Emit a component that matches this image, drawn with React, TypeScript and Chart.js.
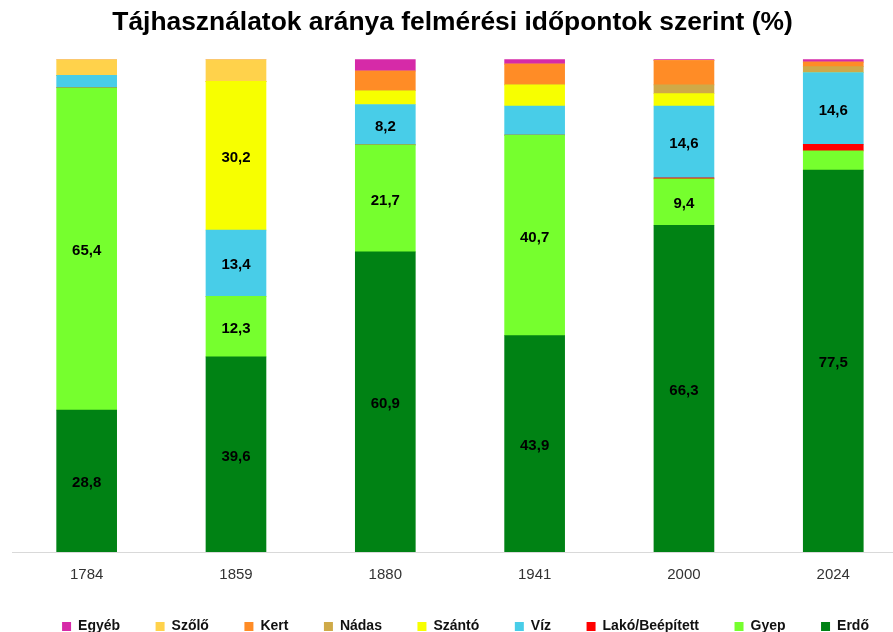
import React, { useEffect, useRef } from "react";
import { Chart, registerables } from "chart.js";

Chart.register(...registerables);

// ---- Data ----
const CATEGORIES = ["1784", "1859", "1880", "1941", "2000", "2024"];

const ERDO = [28.8, 39.6, 60.9, 43.9, 66.3, 77.5];
const GYEP = [65.4, 12.3, 21.7, 40.7, 9.4, 3.9];
const LAKO = [0, 0, 0, 0, 0.2, 1.3];
const VIZ = [2.5, 13.4, 8.2, 5.9, 14.6, 14.6];
const SZANTO = [0, 30.2, 2.8, 4.3, 2.5, 0];
const NADAS = [0, 0, 0, 0, 1.8, 1.2];
const KERT = [0, 0, 4.0, 4.2, 4.9, 0.9];
const SZOLO = [3.3, 4.5, 0, 0, 0, 0];
const EGYEB = [0, 0, 2.4, 1.0, 0.3, 0.6];

const SERIES_NAMES = ["Erdő", "Gyep", "Lakó/Beépített", "Víz", "Szántó", "Nádas", "Kert", "Szőlő", "Egyéb"];
const SERIES_VALUES = [ERDO, GYEP, LAKO, VIZ, SZANTO, NADAS, KERT, SZOLO, EGYEB];
const SERIES_COLORS = ["#008214", "#76ff2e", "#ff0000", "#48cde8", "#f7ff00", "#cfaa48", "#ff8c26", "#ffd24b", "#d62aa8"];

const TITLE = "Tájhasználatok aránya felmérési időpontok szerint (%)";
const LABEL_MIN = 8;

const FONT = '"Liberation Sans", Arial, Helvetica, sans-serif';
const LEGEND_DX = 13;
const LEGEND_DY = -13;

const fmt = (v: number) => v.toFixed(1).replace(".", ",");

const valueLabels = {
  id: "valueLabels",
  afterDatasetsDraw(chart: any) {
    const ctx = chart.ctx;
    ctx.save();
    ctx.font = `bold 15px ${FONT}`;
    ctx.fillStyle = "#000000";
    ctx.textAlign = "center";
    ctx.textBaseline = "middle";
    chart.data.datasets.forEach((ds: any, di: number) => {
      const meta = chart.getDatasetMeta(di);
      if (meta.hidden) return;
      meta.data.forEach((el: any, i: number) => {
        const v = SERIES_VALUES[di][i];
        if (v < LABEL_MIN) return;
        const { x, y, base } = el.getProps(["x", "y", "base"], true);
        ctx.fillText(fmt(v), x, (y + base) / 2 + 2);
      });
    });
    ctx.restore();
  },
};

const legendShift = {
  id: "legendShift",
  afterLayout(chart: any) {
    const lg = chart.legend;
    if (!lg) return;
    lg.left += LEGEND_DX;
    lg.right += LEGEND_DX;
    lg.top += LEGEND_DY;
    lg.bottom = chart.height;
  },
};

export default function App() {
  const ref = useRef<HTMLCanvasElement | null>(null);

  useEffect(() => {
    if (!ref.current) return;
    const chart = new Chart(ref.current, {
      type: "bar",
      data: {
        datasets: SERIES_NAMES.map((name, si) => ({
          label: name,
          data: SERIES_VALUES[si].map((v, i) => ({ x: i, y: v })),
          backgroundColor: SERIES_COLORS[si],
          borderWidth: 0,
          barThickness: 60,
        })),
      },
      options: {
        animation: false,
        responsive: false,
        devicePixelRatio: 1,
        events: [],
        layout: { padding: { left: 12, right: 0, top: 0, bottom: 0 } },
        scales: {
          x: {
            type: "linear",
            stacked: true,
            min: -0.5,
            max: 5.4,
            offset: false,
            grid: { display: false, drawTicks: false },
            border: { display: true, color: "#d9d9d9", width: 1 },
            afterBuildTicks: (scale: any) => {
              scale.ticks = CATEGORIES.map((_, i) => ({ value: i }));
            },
            ticks: {
              autoSkip: false,
              maxRotation: 0,
              padding: 13.5,
              color: "#333333",
              font: { family: FONT, size: 15 },
              callback: (v: any) => CATEGORIES[v as number],
            },
          },
          y: {
            display: false,
            stacked: true,
            min: 0,
            max: 100,
          },
        },
        plugins: {
          title: {
            display: true,
            text: TITLE,
            color: "#000000",
            font: { family: FONT, size: 26.4, weight: "bold" },
            padding: { top: 7, bottom: 20.5 },
          },
          legend: {
            display: true,
            position: "bottom",
            reverse: true,
            maxHeight: 35,
            labels: {
              boxWidth: 9,
              boxHeight: 9,
              padding: 35.5,
              color: "#111111",
              font: { family: FONT, size: 14, weight: "bold" },
            },
          },
          tooltip: { enabled: false },
        },
      },
      plugins: [valueLabels, legendShift],
    });
    return () => chart.destroy();
  }, []);

  return (
    <div style={{ position: "fixed", left: 0, top: 0, width: 893, height: 632, background: "#ffffff" }}>
      <canvas ref={ref} width={893} height={632} style={{ display: "block" }} />
    </div>
  );
}
